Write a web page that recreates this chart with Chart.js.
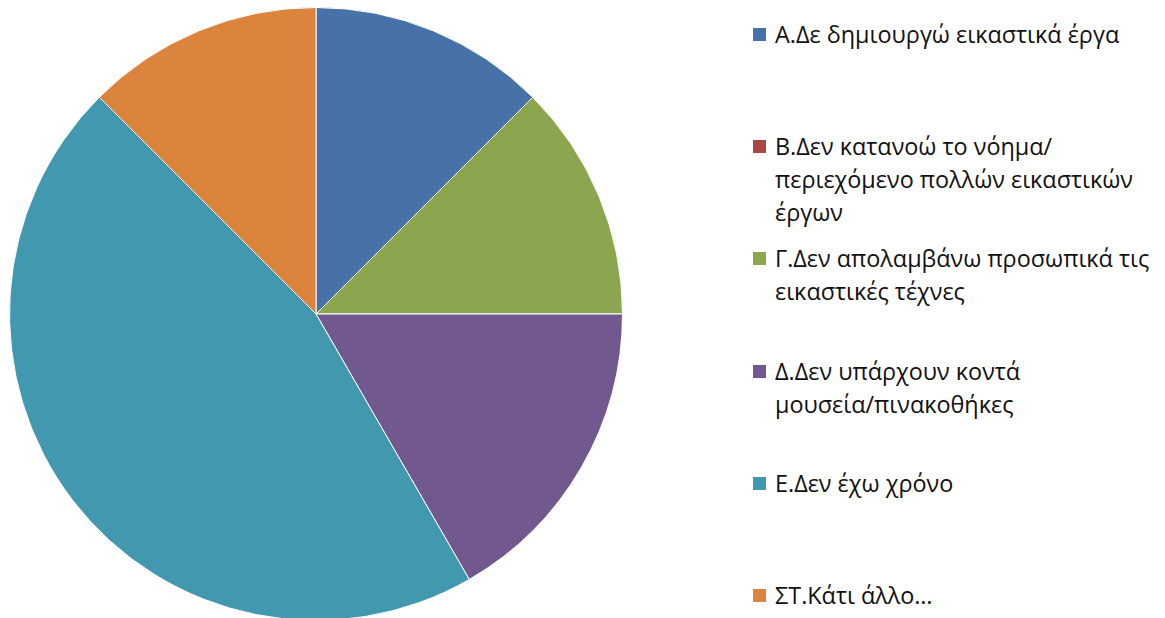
<!DOCTYPE html>
<html>
<head>
<meta charset="utf-8">
<script src="https://cdn.jsdelivr.net/npm/chart.js@4.4.1/dist/chart.umd.min.js"></script>
<style>
  html, body { margin: 0; padding: 0; width: 1165px; height: 618px; overflow: hidden; background: #fff; }
  #pieBox { position: absolute; left: 9px; top: 7px; width: 614px; height: 614px; }
  #legend { position: absolute; left: 0; top: 0; margin: 0; padding: 0; list-style: none; }
  #legend li { position: absolute; left: 753px; white-space: nowrap; font-family: "Open Sans", "Noto Sans", sans-serif; font-size: 23.4px; line-height: 33px; color: #111; }
  #legend .box { position: absolute; left: 0; top: 10px; width: 13px; height: 13px; }
  #legend .txt { position: absolute; left: 22px; top: 0; }
</style>
</head>
<body>
<div id="pieBox"><canvas id="pieChart" width="614" height="614"></canvas></div>
<ul id="legend"></ul>
<script>
// Danh mục (mỗi nhãn là các dòng đã ngắt sẵn như trong hình)
const labels = [
  ['Α.Δε δημιουργώ εικαστικά έργα'],
  ['Β.Δεν κατανοώ το νόημα/', 'περιεχόμενο πολλών εικαστικών', 'έργων'],
  ['Γ.Δεν απολαμβάνω προσωπικά τις', 'εικαστικές τέχνες'],
  ['Δ.Δεν υπάρχουν κοντά', 'μουσεία/πινακοθήκες'],
  ['Ε.Δεν έχω χρόνο'],
  ['ΣΤ.Κάτι άλλο…']
];
// Giá trị
const values = [3, 0, 3, 4, 11, 3];
const colors = ['#4672A7', '#AA4643', '#8BA64F', '#71588F', '#4198AF', '#DB843D'];

const ctx = document.getElementById('pieChart').getContext('2d');
const chart = new Chart(ctx, {
  type: 'pie',
  data: {
    labels: labels,
    datasets: [{
      data: values,
      backgroundColor: colors,
      borderColor: '#ffffff',
      borderWidth: 1
    }]
  },
  options: {
    responsive: false,
    animation: false,
    layout: { padding: 0 },
    plugins: {
      legend: { display: false },
      tooltip: { enabled: false }
    }
  }
});

// Chú thích bên phải
const legendEl = document.getElementById('legend');
labels.forEach((lines, i) => {
  const li = document.createElement('li');
  li.style.top = (18 + i * 112.2) + 'px';
  li.innerHTML = `<span class="box" style="background:${colors[i]}"></span>` +
    `<span class="txt">${lines.join('<br>')}</span>`;
  legendEl.appendChild(li);
});
</script>
</body>
</html>
